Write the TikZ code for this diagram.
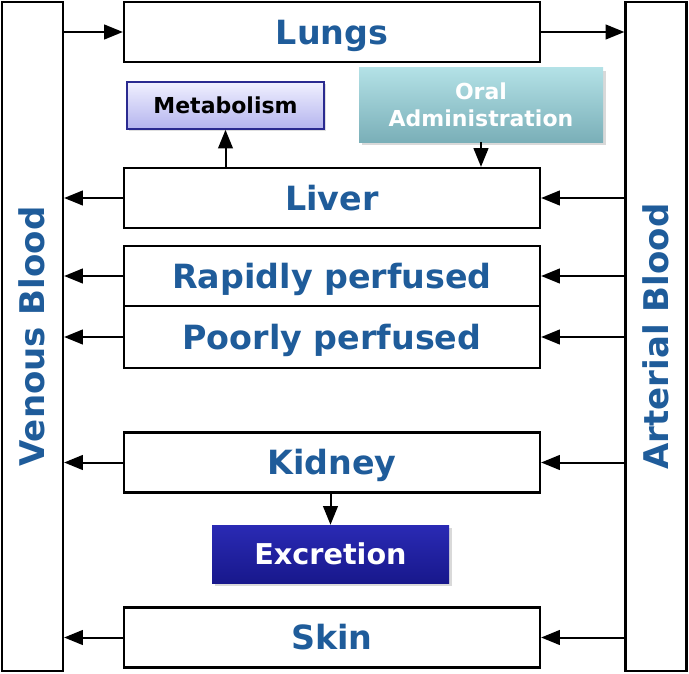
\documentclass[tikz,border=0pt]{standalone}
\usepackage{fontspec}
\setmainfont{DejaVu Sans}
\usetikzlibrary{arrows.meta,shadows}
\definecolor{txtblue}{HTML}{1F5C9A}
\definecolor{metatop}{HTML}{F0F0FF}
\definecolor{metabot}{HTML}{B4B4EE}
\definecolor{metaborder}{HTML}{2A2A90}
\definecolor{oraltop}{HTML}{B3E1E6}
\definecolor{oralbot}{HTML}{7AAFB8}
\definecolor{exctop}{HTML}{2A2AB4}
\definecolor{excbot}{HTML}{18188C}
\begin{document}
\begin{tikzpicture}[x=0.75pt,y=-0.75pt,
  box/.style={draw=black,line width=1.7pt,fill=white},
  organ/.style={box,minimum width=312pt,minimum height=45pt,inner sep=0pt,
     text height=18.2pt,text depth=0pt,
     font=\fontsize{25}{28}\selectfont\bfseries,text=txtblue},
  blood/.style={box,minimum width=45.75pt,minimum height=502pt,inner sep=0pt},
  bloodtxt/.style={rotate=90,text height=18.6pt,text depth=0pt,
     font=\fontsize{25.5}{28}\selectfont\bfseries,text=txtblue},
  arr/.style={-{Triangle[length=14pt,width=11pt]},line width=1.5pt},
  ]
\useasboundingbox (0,0) rectangle (689,674);
% blood columns
\node[blood] (ven) at (32.5,336.5) {};
\node[blood] (art) at (656,336.5) {};
\node[bloodtxt] (vent) at (ven.center) {Venous Blood};
\node[bloodtxt] (artt) at (art.center) {Arterial Blood};
% organs
\node[organ] (lungs) at (332,32) {Lungs};
\node[organ] (liver) at (332,198) {Liver};
\node[organ,minimum height=45pt] (rapid) at (332,276) {Rapidly perfused};
\node[organ,minimum height=46.5pt] (poor) at (332,337) {Poorly perfused};
\node[organ] (kidney) at (332,462.5) {Kidney};
\node[organ] (skin) at (332,637.5) {Skin};
% small boxes
\node[draw=metaborder,line width=1.2pt,top color=metatop,bottom color=metabot,
  minimum width=147.75pt,minimum height=35.25pt,inner sep=0pt,
  text height=12pt,text depth=0pt,
  font=\fontsize{16.5}{18}\selectfont\bfseries,text=black,
  drop shadow={opacity=0.25,shadow xshift=1.5pt,shadow yshift=-1.5pt}] (meta) at (225.5,105.5) {Metabolism};
\node[top color=oraltop,bottom color=oralbot,
  minimum width=183pt,minimum height=55.5pt,inner sep=0pt,align=center,
  font=\fontsize{16.5}{20}\selectfont\bfseries,text=white,
  drop shadow={opacity=0.3,shadow xshift=2pt,shadow yshift=-2pt}] (oral) at (481,105) {Oral\\Administration};
\node[top color=exctop,bottom color=excbot,
  minimum width=177.75pt,minimum height=43.5pt,inner sep=0pt,
  text height=15.7pt,text depth=0pt,
  font=\fontsize{21.5}{24}\selectfont\bfseries,text=white,
  drop shadow={opacity=0.3,shadow xshift=2pt,shadow yshift=-2pt}] (exc) at (330.5,554) {Excretion};
% arrows
\draw[arr] (ven.east |- lungs.west) -- (lungs.west);
\draw[arr] (lungs.east) -- (art.west |- lungs.east);
\foreach \o in {liver,rapid,poor,kidney,skin}{
  \draw[arr] (art.west |- \o.east) -- (\o.east);
  \draw[arr] (\o.west) -- (ven.east |- \o.west);
}
\draw[arr] (liver.north -| meta.south) -- (meta.south);
\draw[arr] (oral.south) -- (liver.north -| oral.south);
\draw[arr] (kidney.south -| exc.north) -- (exc.north);
\end{tikzpicture}
\end{document}
